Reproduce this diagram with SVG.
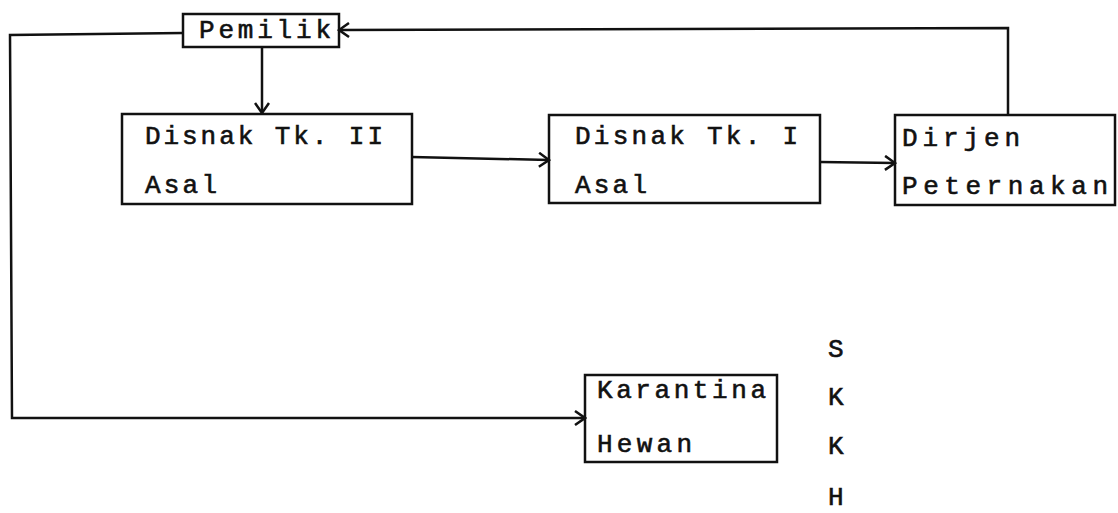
<svg xmlns="http://www.w3.org/2000/svg" width="1118" height="513" viewBox="0 0 1118 513">
<style>
.box{fill:none;stroke:#111;stroke-width:2.5}
.t{font-family:"Liberation Mono",monospace;font-size:26px;fill:#111;stroke:#111;stroke-width:0.6}
.c{fill:none;stroke:#111;stroke-width:2.5}
</style>
<defs>
<marker id="ah" markerWidth="14" markerHeight="16" refX="12" refY="8" orient="auto" markerUnits="userSpaceOnUse">
<path d="M2,1 L12,8 L2,15" fill="none" stroke="#111" stroke-width="2.5"/>
</marker>
</defs>
<rect width="1118" height="513" fill="#fff"/>
<g id="connectors">
<path class="c" d="M183,33 L10,35 L12,418 L585,418" marker-end="url(#ah)"/>
<path class="c" d="M1008,115 L1008,28 L339,30" marker-end="url(#ah)"/>
<path class="c" d="M262,47 L262,113" marker-end="url(#ah)"/>
<path class="c" d="M412,157 L549,160" marker-end="url(#ah)"/>
<path class="c" d="M820,162 L895,163" marker-end="url(#ah)"/>
</g>
<g id="pemilik">
<rect class="box" x="183" y="14" width="156" height="33"/>
<text class="t" x="199" y="38" textLength="132" lengthAdjust="spacing">Pemilik</text>
</g>
<g id="disnak2">
<rect class="box" x="122" y="114" width="290" height="90"/>
<text class="t" x="145" y="144" textLength="238" lengthAdjust="spacing">Disnak Tk. II</text>
<text class="t" x="145" y="193" textLength="72" lengthAdjust="spacing">Asal</text>
</g>
<g id="disnak1">
<rect class="box" x="549" y="115" width="271" height="88"/>
<text class="t" x="575" y="144" textLength="223" lengthAdjust="spacing">Disnak Tk. I</text>
<text class="t" x="575" y="193" textLength="72" lengthAdjust="spacing">Asal</text>
</g>
<g id="dirjen">
<rect class="box" x="895" y="115" width="220" height="90"/>
<text class="t" x="902" y="146" textLength="118" lengthAdjust="spacing">Dirjen</text>
<text class="t" x="902" y="194" textLength="206" lengthAdjust="spacing">Peternakan</text>
</g>
<g id="karantina">
<rect class="box" x="585" y="375" width="192" height="87"/>
<text class="t" x="597" y="398" textLength="169" lengthAdjust="spacing">Karantina</text>
<text class="t" x="597" y="452" textLength="95" lengthAdjust="spacing">Hewan</text>
</g>
<g id="skkh">
<text class="t" x="828" y="357">S</text>
<text class="t" x="828" y="405">K</text>
<text class="t" x="828" y="454">K</text>
<text class="t" x="828" y="505">H</text>
</g>
</svg>
